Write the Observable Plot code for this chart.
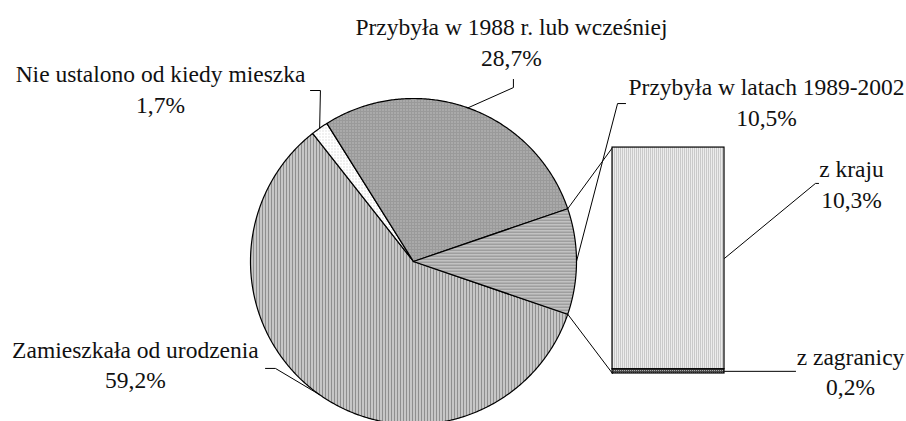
<!DOCTYPE html>
<html>
<head>
<meta charset="utf-8">
<script src="https://cdn.jsdelivr.net/npm/d3@7"></script>
<script src="https://cdn.jsdelivr.net/npm/@observablehq/plot@0.6"></script>
<style>
  html, body { margin: 0; padding: 0; background: #fff; }
  svg text { font-family: "Liberation Serif", "DejaVu Serif", serif; }
</style>
</head>
<body>
<div id="chart"></div>
<script>
// ---- data ----
const categories = ["Zamieszkała od urodzenia", "Nie ustalono od kiedy mieszka", "Przybyła w 1988 r. lub wcześniej", "Przybyła w latach 1989-2002"];
const shares = [59.2, 1.7, 28.7, 10.5];
const shareLabels = ["59,2%", "1,7%", "28,7%", "10,5%"];
const barCategories = ["z zagranicy", "z kraju"];
const barShares = [0.2, 10.3];
const barLabels = ["0,2%", "10,3%"];

// ---- layout (pie radius = 1 unit) ----
const cx = 413, cy = 261, R = 163;
const bar = {left: 1.221, right: 1.908, bottom: -0.687, top: 0.699};
const patterns = ["url(#pVert)", "url(#pDots)", "url(#pGrid)", "url(#pHoriz)"];
const barPatterns = ["url(#pDark)", "url(#pLight)"];
const FONT = "Liberation Serif";
// label anchors (center x, last-line baseline y) and leader elbows, in pie units
const pieLabelPos = [
  {x: -1.706, y: -0.779, elbow: [[-0.908, -0.656], [-0.847, -0.656]]},
  {x: -1.552, y: 0.914, elbow: [[-0.632, 1.049], [-0.571, 1.049]]},
  {x: 0.601, y: 1.202, elbow: [[0.613, 1.117], [0.613, 1.067]]},
  {x: 2.166, y: 0.834, elbow: [[1.301, 0.969], [1.252, 0.969]]}
];
const barLabelPos = [
  {x: 2.681, y: -0.822, elbow: [[2.344, null]]},
  {x: 2.687, y: 0.331, elbow: [[2.485, 0.479], [2.466, 0.479]]}
];

// ---- geometry from data ----
const total = d3.sum(shares);
const deg = 360 / total;
const other = shares[3];
const rad = a => a * Math.PI / 180;
const slices = [];
let a = -other / 2 * deg; // start at lower boundary of the "other" slice, clockwise
shares.forEach((s, i) => {
  let a0, a1;
  if (i < 3) { a0 = a; a1 = a - s * deg; a = a1; }
  else { a0 = other / 2 * deg; a1 = -other / 2 * deg; }
  slices.push({name: categories[i], a0, a1, mid: (a0 + a1) / 2, fill: patterns[i]});
});
const piePts = [];
slices.forEach((s, i) => {
  piePts.push({name: s.name, x: 0, y: 0});
  const n = Math.max(2, Math.ceil(Math.abs(s.a1 - s.a0) / 0.5));
  for (let k = 0; k <= n; k++) {
    const t = rad(s.a0 + (s.a1 - s.a0) * k / n);
    piePts.push({name: s.name, x: Math.cos(t), y: Math.sin(t)});
  }
  piePts.push({name: s.name, x: 0, y: 0});
});

// bar segments (stacked from bottom)
const barTotal = d3.sum(barShares);
const bv = v => bar.bottom + v / barTotal * (bar.top - bar.bottom);
let acc = 0;
const barSegs = barShares.map((v, i) => {
  const s = {name: barCategories[i], y1: bv(acc), y2: bv(acc + v), mid: bv(acc + v / 2), fill: barPatterns[i]};
  acc += v;
  return s;
});

// connectors from "other" slice to bar
const ta = rad(other / 2 * deg);
const connectors = [
  {id: "top", x: Math.cos(ta), y: Math.sin(ta)}, {id: "top", x: bar.left, y: bv(barTotal)},
  {id: "bot", x: Math.cos(-ta), y: Math.sin(-ta)}, {id: "bot", x: bar.left, y: bv(0)}
];

// leaders
const leaders = [];
slices.forEach((s, i) => {
  const id = "p" + i;
  pieLabelPos[i].elbow.forEach(([x, y]) => leaders.push({id, x, y}));
  leaders.push({id, x: Math.cos(rad(s.mid)), y: Math.sin(rad(s.mid))});
});
barSegs.forEach((s, i) => {
  const id = "b" + i;
  barLabelPos[i].elbow.forEach(([x, y]) => leaders.push({id, x, y: y == null ? s.mid : y}));
  leaders.push({id, x: bar.right, y: s.mid});
});

const labels = [
  ...categories.map((c, i) => ({text: c + "\n" + shareLabels[i], x: pieLabelPos[i].x, y: pieLabelPos[i].y})),
  ...barCategories.map((c, i) => ({text: c + "\n" + barLabels[i], x: barLabelPos[i].x, y: barLabelPos[i].y}))
];

const chart = Plot.plot({
  width: 906,
  height: 421,
  margin: 0,
  x: {domain: [-1, 1], range: [cx - R, cx + R], axis: null},
  y: {domain: [-1, 1], range: [cy + R, cy - R], axis: null},
  color: {type: "identity"},
  style: `font-family: ${FONT}, serif; background: #fff; color: #000;`,
  marks: [
    Plot.line(connectors, {x: "x", y: "y", z: "id", stroke: "#000", strokeWidth: 1}),
    Plot.line(piePts, {x: "x", y: "y", z: "name", fill: d => slices.find(s => s.name === d.name).fill, stroke: "#000", strokeWidth: 1.2, strokeLinejoin: "round"}),
    Plot.rect(barSegs, {x1: bar.left, x2: bar.right, y1: "y1", y2: "y2", fill: "fill", stroke: "#000", strokeWidth: 1.2}),
    Plot.line(leaders, {x: "x", y: "y", z: "id", stroke: "#000", strokeWidth: 1}),
    Plot.text(labels, {x: "x", y: "y", text: "text", lineAnchor: "bottom", lineHeight: 1.28, fontSize: 23.5, fontFamily: FONT, fill: "#111", textAnchor: "middle"})
  ]
});

// pattern definitions
const defs = d3.select(chart).insert("defs", ":first-child");
function pat(id, w, h, bg, rects) {
  const p = defs.append("pattern").attr("id", id).attr("patternUnits", "userSpaceOnUse").attr("width", w).attr("height", h);
  p.append("rect").attr("width", w).attr("height", h).attr("fill", bg);
  rects.forEach(r => p.append("rect").attr("x", r[0]).attr("y", r[1]).attr("width", r[2]).attr("height", r[3]).attr("fill", r[4]));
}
pat("pVert", 3, 3, "#ffffff", [[0, 0, 2, 3, "#8f8f8f"]]);
pat("pGrid", 3, 3, "#9a9a9a", [[1, 1, 1, 1, "#d8d8d8"]]);
pat("pHoriz", 3, 3, "#d4d4d4", [[0, 0, 3, 1.5, "#8c8c8c"]]);
pat("pDots", 3, 3, "#ffffff", [[1, 1, 1, 1, "#c4c4c4"]]);
pat("pLight", 2, 2, "#ececec", [[0, 0, 1, 2, "#c9c9c9"]]);
pat("pDark", 2, 2, "#4a4a4a", [[0, 0, 1, 1, "#b0b0b0"]]);

document.getElementById("chart").appendChild(chart);
</script>
</body>
</html>
